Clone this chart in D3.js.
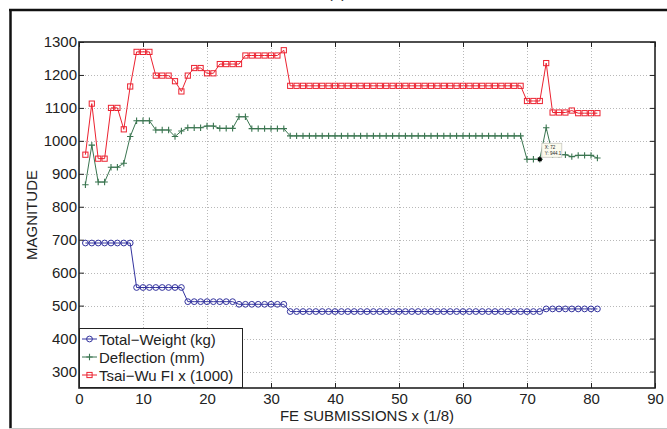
<!DOCTYPE html>
<html>
<head>
<meta charset="utf-8">
<script src="https://cdn.jsdelivr.net/npm/d3@7"></script>
<style>
  html, body { margin: 0; padding: 0; background: #fff; }
  svg { display: block; }
  text { font-family: "Liberation Sans", Arial, Helvetica, sans-serif; fill: #222; }
</style>
</head>
<body>
<script>
// FE submission index (1/8 steps)
const submissions = [
  1,2,3,4,5,6,7,8,9,10,11,12,13,14,15,16,17,18,19,20,
  21,22,23,24,25,26,27,28,29,30,31,32,33,34,35,36,37,38,39,40,
  41,42,43,44,45,46,47,48,49,50,51,52,53,54,55,56,57,58,59,60,
  61,62,63,64,65,66,67,68,69,70,71,72,73,74,75,76,77,78,79,80,81
];

// Total weight (kg)
const totalWeight = [
  690,690,690,690,690,690,690,690,
  555,555,555,555,555,555,555,555,
  512,512,512,512,512,512,512,512,
  504,504,504,504,504,504,504,504,
  482,482,482,482,482,482,482,482,482,482,
  482,482,482,482,482,482,482,482,482,482,
  482,482,482,482,482,482,482,482,482,482,
  482,482,482,482,482,482,482,482,482,482,
  490,490,490,490,490,490,490,490,490
];

// Deflection (mm)
const deflection = [
  867,987,875,875,920,920,932,1013,
  1061,1061,1061,1033,1033,1033,1013,1030,
  1040,1040,1040,1045,1045,1038,1038,1038,
  1073,1073,1037,1037,1037,1037,1037,1037,
  1015,1015,1015,1015,1015,1015,1015,1015,1015,1015,
  1015,1015,1015,1015,1015,1015,1015,1015,1015,1015,
  1015,1015,1015,1015,1015,1015,1015,1015,1015,1015,
  1015,1015,1015,1015,1015,1015,1015,
  944.1,944.1,944.1,1040,958,958,958,952,956,956,956,948
];

// Tsai-Wu failure index x 1000
const tsaiWu = [
  958,1113,946,946,1100,1100,1035,1165,
  1270,1270,1270,1198,1198,1198,1181,1150,
  1198,1221,1221,1205,1205,1233,1233,1233,
  1233,1259,1259,1259,1259,1259,1259,1275,
  1167,1167,1167,1167,1167,1167,1167,1167,1167,1167,
  1167,1167,1167,1167,1167,1167,1167,1167,1167,1167,
  1167,1167,1167,1167,1167,1167,1167,1167,1167,1167,
  1167,1167,1167,1167,1167,1167,1167,
  1121,1121,1121,1236,1086,1086,1086,1092,1084,1084,1084,1084
];

const xTicks = [0,10,20,30,40,50,60,70,80,90];
const yTicks = [300,400,500,600,700,800,900,1000,1100,1200,1300];
const seriesNames = ["Total\u2212Weight (kg)", "Deflection (mm)", "Tsai\u2212Wu FI x (1000)"];

// data cursor
const tipX = 72, tipY = 944.1;

const W = 667, H = 429;
const svg = d3.select("body").append("svg").attr("width", W).attr("height", H);

// figure frame
svg.append("line").attr("x1", 10.5).attr("x2", 10.5).attr("y1", 9).attr("y2", H)
  .attr("stroke", "#111").attr("stroke-width", 2.5);
svg.append("line").attr("x1", 9).attr("x2", W).attr("y1", 10).attr("y2", 10)
  .attr("stroke", "#111").attr("stroke-width", 2.5);
svg.append("line").attr("x1", 9).attr("x2", W).attr("y1", 428.5).attr("y2", 428.5)
  .attr("stroke", "#c8c8c8").attr("stroke-width", 1);

// panel title (mostly above the page edge)
svg.append("text").attr("x", 337).attr("y", -2).attr("text-anchor", "middle")
  .attr("font-size", 15).text("(a)");

const pL = 79, pR = 655, pT = 42, pB = 388;
const x = d3.scaleLinear().domain([0, 90]).range([pL, pR]);
const y = d3.scaleLinear().domain([250, 1300]).range([pB, pT]);

// grid
const grid = svg.append("g").attr("stroke", "#b8b8b8").attr("stroke-width", 1)
  .attr("stroke-dasharray", "1,2");
grid.selectAll(".gx").data(xTicks.slice(1, -1)).join("line")
  .attr("x1", d => Math.round(x(d)) + 0.5).attr("x2", d => Math.round(x(d)) + 0.5)
  .attr("y1", pT).attr("y2", pB);
grid.selectAll(".gy").data(yTicks.slice(0, -1)).join("line")
  .attr("y1", d => Math.round(y(d)) + 0.5).attr("y2", d => Math.round(y(d)) + 0.5)
  .attr("x1", pL).attr("x2", pR);

// axes (ticks inward, box on)
function styleAxis(g) {
  g.select(".domain").remove();
  g.selectAll(".tick line").attr("stroke", "#222").attr("stroke-width", 1);
  g.selectAll(".tick text").attr("font-size", 15).attr("fill", "#222")
    .attr("font-family", "'Liberation Sans', Arial, sans-serif");
}
svg.append("g").attr("transform", `translate(0,${pB})`)
  .call(d3.axisBottom(x).tickValues(xTicks).tickSizeInner(-5).tickSizeOuter(0).tickPadding(5).tickFormat(d3.format("d")))
  .call(styleAxis);
svg.append("g").attr("transform", `translate(0,${pT})`)
  .call(d3.axisTop(x).tickValues(xTicks).tickSizeInner(-5).tickSizeOuter(0).tickFormat(""))
  .call(styleAxis);
svg.append("g").attr("transform", `translate(${pL},0)`)
  .call(d3.axisLeft(y).tickValues(yTicks).tickSizeInner(-5).tickSizeOuter(0).tickPadding(2).tickFormat(d3.format("d")))
  .call(styleAxis);
svg.append("g").attr("transform", `translate(${pR},0)`)
  .call(d3.axisRight(y).tickValues(yTicks).tickSizeInner(-5).tickSizeOuter(0).tickFormat(""))
  .call(styleAxis);

svg.append("rect").attr("x", pL).attr("y", pT).attr("width", pR - pL).attr("height", pB - pT)
  .attr("fill", "none").attr("stroke", "#222").attr("stroke-width", 1.6);

// axis titles
svg.append("text").attr("x", (pL + pR) / 2).attr("y", 421).attr("text-anchor", "middle")
  .attr("font-size", 15).text("FE SUBMISSIONS x (1/8)");
svg.append("text").attr("transform", `translate(37,${(pT + pB) / 2}) rotate(-90)`)
  .attr("text-anchor", "middle").attr("font-size", 15).text("MAGNITUDE");

// series
const colors = ["#33339e", "#3a7550", "#ec2230"];
const allSeries = [totalWeight, deflection, tsaiWu];
const line = d3.line().x(d => x(d[0])).y(d => y(d[1]));

function drawMarker(g, kind, color, cx, cy) {
  if (kind === 0) {
    g.append("circle").attr("cx", cx).attr("cy", cy).attr("r", 2.9)
      .attr("fill", "none").attr("stroke", color).attr("stroke-width", 1);
  } else if (kind === 1) {
    g.append("path").attr("d", `M${cx - 3.2},${cy}H${cx + 3.2}M${cx},${cy - 3.2}V${cy + 3.2}`)
      .attr("stroke", color).attr("stroke-width", 1.1);
  } else {
    g.append("rect").attr("x", cx - 2.6).attr("y", cy - 2.6).attr("width", 5.2).attr("height", 5.2)
      .attr("fill", "none").attr("stroke", color).attr("stroke-width", 1);
  }
}

allSeries.forEach((vals, i) => {
  const pts = submissions.map((s, k) => [s, vals[k]]);
  const g = svg.append("g");
  g.append("path").attr("d", line(pts)).attr("fill", "none")
    .attr("stroke", colors[i]).attr("stroke-width", 1);
  pts.forEach(p => drawMarker(g, i, colors[i], x(p[0]), y(p[1])));
});

// data tip
const tx = x(tipX), ty = y(tipY);
svg.append("rect").attr("x", tx - 2).attr("y", ty - 2).attr("width", 4).attr("height", 4).attr("fill", "#000");
const tip = svg.append("g").attr("transform", `translate(${tx + 2},${ty - 16})`);
tip.append("rect").attr("width", 20).attr("height", 14).attr("fill", "#fbfbee")
  .attr("stroke", "#c8c8c0").attr("stroke-width", 0.8);
tip.append("text").attr("x", 3).attr("y", 6).attr("font-size", 4.5).text(`X: ${tipX}`);
tip.append("text").attr("x", 3).attr("y", 11.5).attr("font-size", 4.5).text(`Y: ${tipY}`);

// legend
const lg = svg.append("g").attr("transform", `translate(${pL},328)`);
lg.append("rect").attr("x", 0.5).attr("y", 0.5).attr("width", 163).attr("height", 59)
  .attr("fill", "#fff").attr("stroke", "#222").attr("stroke-width", 1);
seriesNames.forEach((name, i) => {
  const ry = 11 + i * 18;
  lg.append("line").attr("x1", 3).attr("x2", 18).attr("y1", ry).attr("y2", ry)
    .attr("stroke", colors[i]).attr("stroke-width", 1);
  drawMarker(lg, i, colors[i], 10.5, ry);
  lg.append("text").attr("x", 20).attr("y", ry + 5.5).attr("font-size", 15).text(name);
});
</script>
</body>
</html>
